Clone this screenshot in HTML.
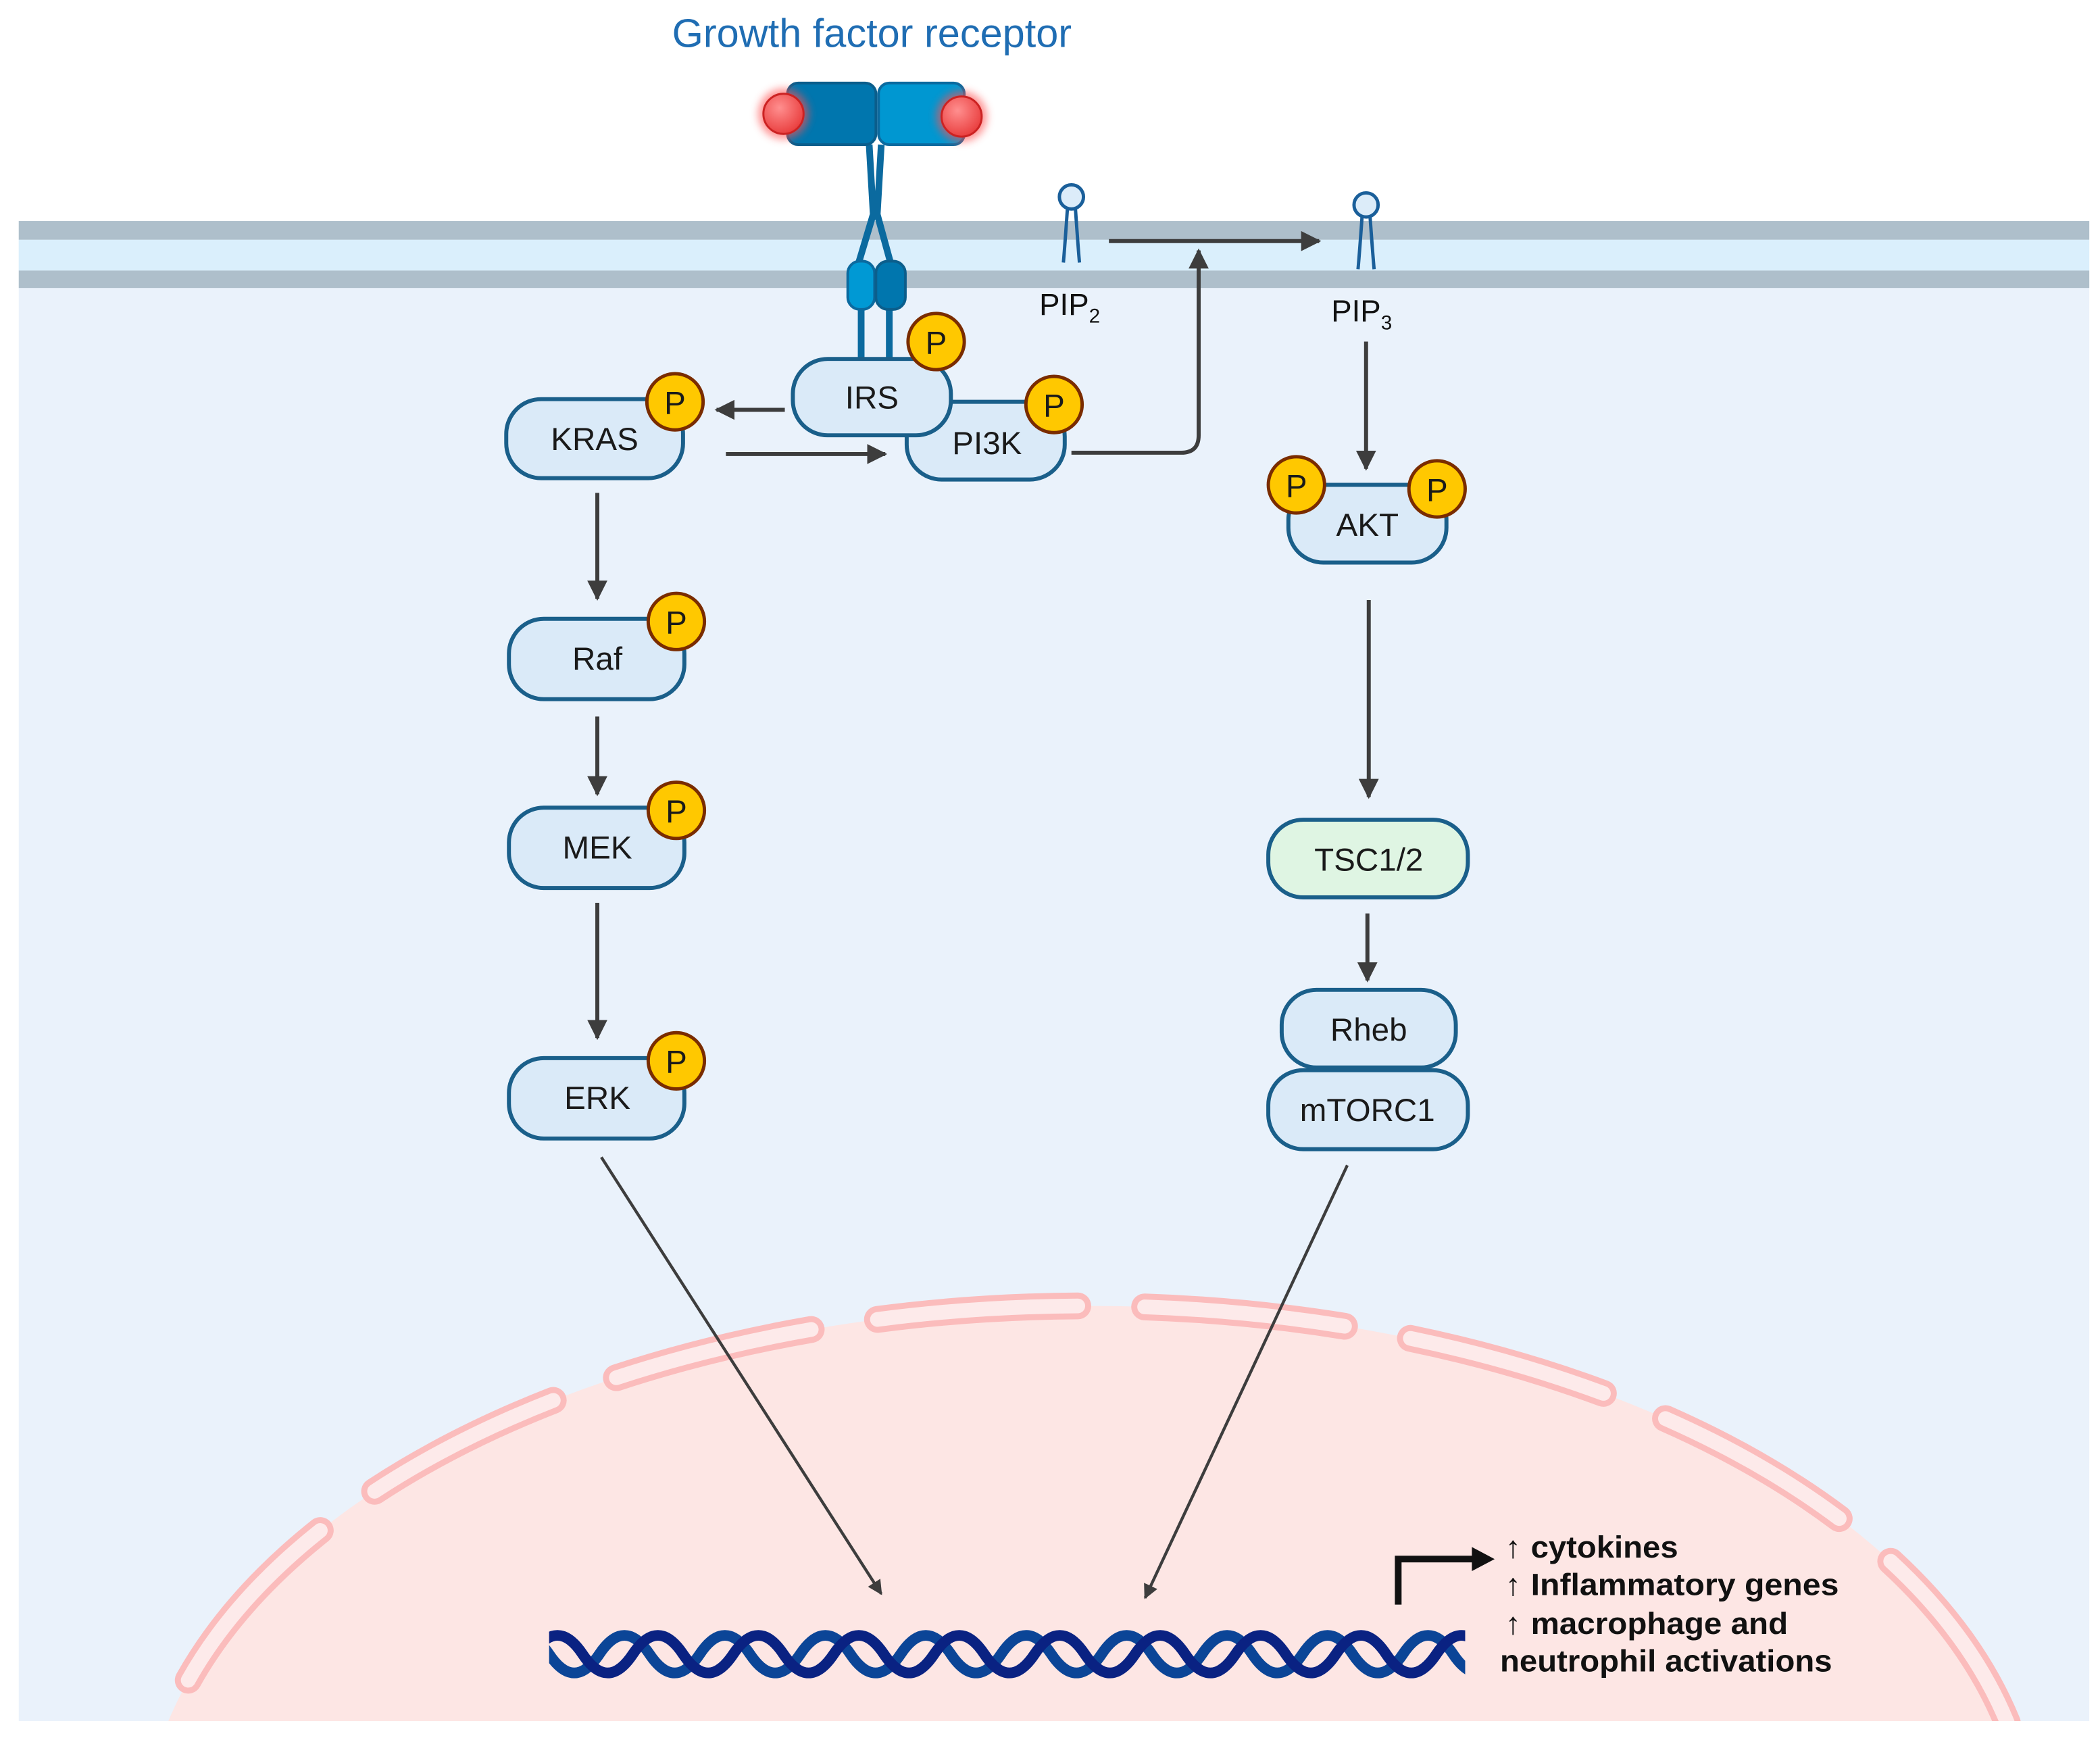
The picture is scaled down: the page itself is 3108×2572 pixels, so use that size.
<!DOCTYPE html>
<html><head><meta charset="utf-8"><style>
html,body{margin:0;padding:0;background:#fff;overflow:hidden;width:3108px;height:2572px}
svg{display:block}
text{font-family:"Liberation Sans",sans-serif}
</style></head><body>
<svg width="3108" height="2572" viewBox="0 0 1568 1297.6" preserveAspectRatio="none" xmlns="http://www.w3.org/2000/svg">
<defs>
<marker id="ah" viewBox="0 0 10 10" refX="9" refY="5" markerWidth="5" markerHeight="5" orient="auto-start-reverse" markerUnits="strokeWidth"><path d="M0,0 L10,5 L0,10 z" fill="#3d3d3d"/></marker>
<clipPath id="cell"><rect x="14" y="215" width="1546" height="1070"/></clipPath>
<radialGradient id="rb" cx="0.4" cy="0.35" r="0.7"><stop offset="0" stop-color="#ff8f8f"/><stop offset="1" stop-color="#e83a3a"/></radialGradient>
<filter id="glow" x="-50%" y="-50%" width="200%" height="200%"><feGaussianBlur stdDeviation="3"/></filter>
<path id="strand" d="M-37.5,23 C-25,4.3 -12.5,4.3 0,23 S25,41.7 37.5,23 S62.5,4.3 75,23 S100,41.7 112.5,23 S137.5,4.3 150,23 S175,41.7 187.5,23 S212.5,4.3 225,23 S250,41.7 262.5,23 S287.5,4.3 300,23 S325,41.7 337.5,23 S362.5,4.3 375,23 S400,41.7 412.5,23 S437.5,4.3 450,23 S475,41.7 487.5,23 S512.5,4.3 525,23 S550,41.7 562.5,23 S587.5,4.3 600,23 S625,41.7 637.5,23 S662.5,4.3 675,23 S700,41.7 712.5,23 S737.5,4.3 750,23" fill="none" stroke-width="8"/>
</defs>
<rect width="1568" height="1297.6" fill="#fff"/>
<rect x="14" y="165" width="1546" height="1120" fill="#eaf2fb"/>
<rect x="14" y="165" width="1546" height="14" fill="#aebfcb"/>
<rect x="14" y="179" width="1546" height="23" fill="#daeffc"/>
<rect x="14" y="202" width="1546" height="13" fill="#aebfcb"/>
<g clip-path="url(#cell)">
<ellipse cx="812" cy="1377" rx="705" ry="402" fill="#fde6e4"/>
<ellipse cx="812" cy="1377" rx="705" ry="402" fill="none" stroke="#fbbcbc" stroke-width="20" stroke-dasharray="150 50" stroke-dashoffset="100" stroke-linecap="round"/>
<ellipse cx="812" cy="1377" rx="705" ry="402" fill="none" stroke="#fdeaea" stroke-width="11" stroke-dasharray="150 50" stroke-dashoffset="100" stroke-linecap="round"/>
</g>
<text x="651" y="35" font-size="30" fill="#1f6db3" text-anchor="middle">Growth factor receptor</text>
<path d="M649,108 L652,160 L640,200 M658,108 L655,160 L666,200" stroke="#0b6a9f" stroke-width="5" fill="none"/>
<rect x="588" y="62" width="66" height="46" rx="8" fill="#0076ae" stroke="#0b5e8c" stroke-width="2"/>
<rect x="656" y="62" width="64" height="46" rx="8" fill="#0097d1" stroke="#0b6a9f" stroke-width="2"/>
<circle cx="585" cy="85" r="19" fill="#ff5050" opacity="0.6" filter="url(#glow)"/>
<circle cx="718" cy="87" r="19" fill="#ff5050" opacity="0.6" filter="url(#glow)"/>
<circle cx="585" cy="85" r="15" fill="url(#rb)" stroke="#c22" stroke-width="1.5"/>
<circle cx="718" cy="87" r="15" fill="url(#rb)" stroke="#c22" stroke-width="1.5"/>
<line x1="643" y1="225" x2="643" y2="270" stroke="#0b6a9f" stroke-width="5"/>
<line x1="664" y1="225" x2="664" y2="270" stroke="#0b6a9f" stroke-width="5"/>
<rect x="633" y="195" width="20" height="36" rx="9" fill="#0099d4" stroke="#0b6a9f" stroke-width="2"/>
<rect x="654" y="195" width="22" height="36" rx="9" fill="#0076ae" stroke="#0b5e8c" stroke-width="2"/>
<g stroke="#1a5f9a" stroke-width="2.5" fill="#dcecf9">
<circle cx="800" cy="147" r="9"/>
<path d="M797,156 C796,170 795,185 794,196 M803,156 C804,170 805,185 806,196" fill="none"/>
<circle cx="1020" cy="153" r="9"/>
<path d="M1017,162 C1016,176 1015,190 1014,201 M1023,162 C1024,176 1025,190 1026,201" fill="none"/>
</g>
<text x="776" y="235" font-size="23" fill="#111">PIP<tspan font-size="15" dy="6">2</tspan></text>
<text x="994" y="240" font-size="23" fill="#111">PIP<tspan font-size="15" dy="6">3</tspan></text>
<g stroke="#3d3d3d" stroke-width="3" fill="none" marker-end="url(#ah)">
<line x1="828" y1="180" x2="985" y2="180"/>
<path d="M800,338 L882,338 Q895,338 895,325 L895,187"/>
<line x1="586" y1="306" x2="535" y2="306"/>
<line x1="542" y1="339" x2="661" y2="339"/>
<line x1="1020" y1="255" x2="1020" y2="350"/>
<line x1="1022" y1="448" x2="1022" y2="595"/>
<line x1="1021" y1="682" x2="1021" y2="732"/>
<line x1="446" y1="368" x2="446" y2="447"/>
<line x1="446" y1="535" x2="446" y2="593"/>
<line x1="446" y1="674" x2="446" y2="775"/>
</g>
<g stroke="#3d3d3d" fill="none" marker-end="url(#ah)">
<line x1="449" y1="864" x2="658" y2="1190" stroke-width="2.2"/>
<line x1="1006" y1="870" x2="855" y2="1193" stroke-width="2.2"/>
</g>
<g fill="#daeaf8" stroke="#1a5f8a" stroke-width="3">
<rect x="677" y="300" width="118" height="58" rx="26"/>
<rect x="592" y="268" width="118" height="57" rx="26"/>
<rect x="378" y="298" width="132" height="59" rx="26"/>
<rect x="380" y="462" width="131" height="60" rx="26"/>
<rect x="380" y="603" width="131" height="60" rx="26"/>
<rect x="380" y="790" width="131" height="60" rx="26"/>
<rect x="962" y="362" width="118" height="58" rx="26"/>
<rect x="957" y="739" width="130" height="58" rx="26"/>
<rect x="947" y="799" width="149" height="59" rx="26"/>
<rect x="947" y="612" width="149" height="58" rx="26" fill="#dff5e3"/>
</g>
<g font-size="24" fill="#1a1a1a" text-anchor="middle">
<text x="651" y="305">IRS</text>
<text x="737" y="339">PI3K</text>
<text x="444" y="336">KRAS</text>
<text x="446" y="500">Raf</text>
<text x="446" y="641">MEK</text>
<text x="446" y="828">ERK</text>
<text x="1021" y="400">AKT</text>
<text x="1022" y="650">TSC1/2</text>
<text x="1022" y="777">Rheb</text>
<text x="1021" y="837">mTORC1</text>
</g>
<g fill="#ffc800" stroke="#7a2c00" stroke-width="2.5">
<circle cx="699" cy="255" r="21"/>
<circle cx="787" cy="302" r="21"/>
<circle cx="504" cy="300" r="21"/>
<circle cx="505" cy="464" r="21"/>
<circle cx="505" cy="605" r="21"/>
<circle cx="505" cy="792" r="21"/>
<circle cx="968" cy="362" r="21"/>
<circle cx="1073" cy="365" r="21"/>
</g>
<g font-size="24" fill="#1a1a1a" text-anchor="middle">
<text x="699" y="264">P</text><text x="787" y="311">P</text>
<text x="504" y="309">P</text><text x="505" y="473">P</text>
<text x="505" y="614">P</text><text x="505" y="801">P</text>
<text x="968" y="371">P</text><text x="1073" y="374">P</text>
</g>
<svg x="410" y="1212" width="684" height="46" viewBox="0 0 684 46" overflow="hidden">
<use href="#strand" stroke="#0b4597"/>
<use href="#strand" stroke="#0a2282" transform="translate(25,0)"/>
</svg>
<path d="M1044,1198 L1044,1164 L1100,1164" stroke="#111" stroke-width="5" fill="none"/>
<path d="M1099,1155 L1116,1164 L1099,1173 z" fill="#111"/>
<g font-size="23" font-weight="bold" fill="#111">
<text x="1124" y="1163">↑<tspan x="1143" textLength="110" lengthAdjust="spacingAndGlyphs">cytokines</tspan></text>
<text x="1124" y="1191">↑<tspan x="1143" textLength="230" lengthAdjust="spacingAndGlyphs">Inflammatory genes</tspan></text>
<text x="1124" y="1220">↑<tspan x="1143" textLength="192" lengthAdjust="spacingAndGlyphs">macrophage and</tspan></text>
<text x="1120" y="1248" textLength="248" lengthAdjust="spacingAndGlyphs">neutrophil activations</text>
</g>
</svg>
</body></html>
